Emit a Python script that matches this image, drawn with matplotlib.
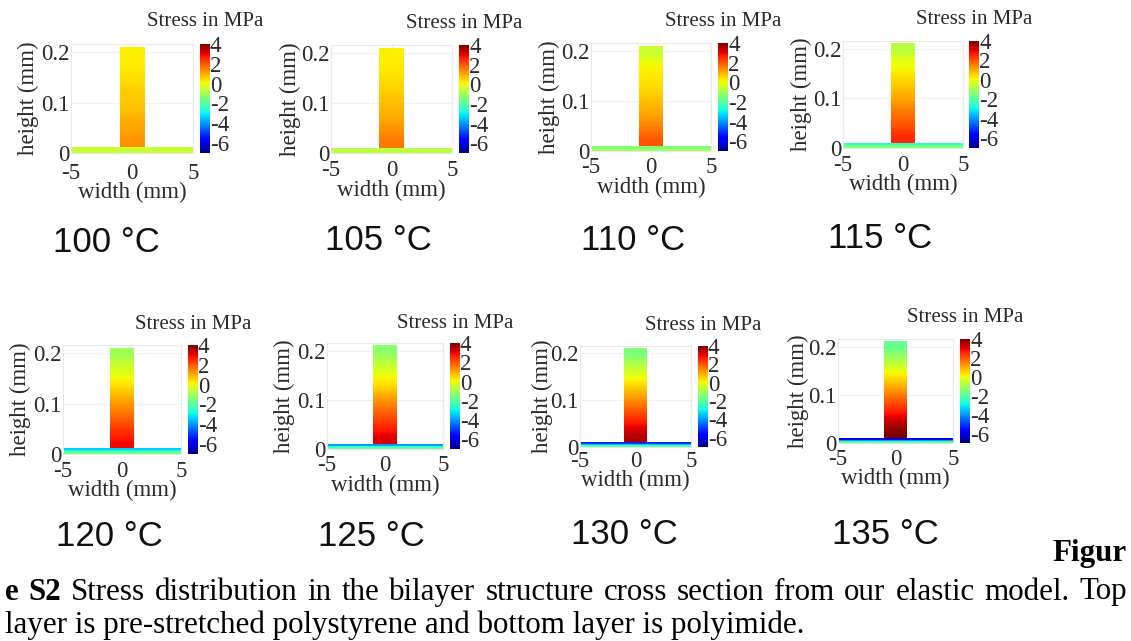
import numpy as np
import matplotlib
matplotlib.use("Agg")
import matplotlib.pyplot as plt
from matplotlib.cm import ScalarMappable
from matplotlib.colors import Normalize

W, H = 1131, 641
plt.rcParams['font.family'] = ['Liberation Serif', 'DejaVu Serif']
plt.rcParams['axes.unicode_minus'] = False

temps = ["100 °C", "105 °C", "110 °C", "115 °C", "120 °C", "125 °C", "130 °C", "135 °C"]

top_layer = [
    [0.2, 0.25, 0.4, 0.6, 0.7, 0.9, 1.1, 1.3],
    [0.2, 0.25, 0.4, 0.6, 0.8, 1.0, 1.3, 1.6],
    [-0.5, 0.1, 0.3, 0.5, 0.8, 1.1, 1.5, 2.0],
    [-0.7, -0.1, 0.3, 0.7, 1.1, 1.6, 2.0, 2.5],
    [-1.0, -0.4, 0.1, 0.7, 1.3, 1.8, 2.4, 2.9],
    [-1.3, -0.6, 0.0, 0.6, 1.3, 1.9, 2.5, 3.1],
    [-1.5, -0.7, 0.0, 0.7, 1.4, 2.1, 2.8, 3.5],
    [-1.8, -0.9, 0.0, 0.8, 1.6, 2.4, 3.2, 4.0],
]
# bottom layer, its top band then its bottom band
bottom_layer = [
    [-0.5, -0.5],
    [-0.7, -0.6],
    [-1.5, -1.0],
    [-2.6, -1.3],
    [-3.4, -1.6],
    [-4.0, -1.8],
    [-5.2, -1.9],
    [-6.0, -1.9],
]

y_ticks = [0, 0.1, 0.2]
y_tick_labels = ["0", "0.1", "0.2"]
x_ticks = [-5, 0, 5]
cbar_ticks = [4, 2, 0, -2, -4, -6]
caption_first = "Stress distribution in the bilayer structure cross section from our elastic model. Top"
caption_second = "layer is pre-stretched polystyrene and bottom layer is polyimide."

# pixel layout of each panel: left, right, top, bottom of the axes
ax_box = [(71, 193, 44, 153), (331, 452, 45, 153), (591, 711, 43, 151), (843, 963, 41, 148),
          (63, 181, 345, 454), (327, 443, 343, 449), (580, 691, 346, 447), (838, 953, 339, 443)]
cbar_left = [200, 459, 718, 969, 188, 450, 698, 960]
title_pos = [(205, 22), (464, 23), (723, 21), (974, 20), (193, 325), (455, 323), (703, 326), (965, 318)]
temp_pos = [(106, 243), (378, 241), (633, 240), (880, 238), (109, 537), (371, 537), (624, 534), (885, 535)]
ylabel_gap = [43, 41, 42, 42, 43, 43, 38, 40]
xlabel_gap = [39, 37, 36, 36, 36, 36, 33, 35]
xtick_pad = [7, 5, 4, 5, 5, 4, 3, 4]

text_col = "#2a2a2a"
norm = Normalize(-7, 4)
fig = plt.figure(figsize=(W / 100, H / 100), dpi=100)


def make_axes(left, right, top, bottom):
    return fig.add_axes([left / W, 1 - bottom / H, (right - left) / W, (bottom - top) / H])


for i, box in enumerate(ax_box):
    left, right, top, bottom = box
    ax = make_axes(left, right, top, bottom)

    # top layer, -1..1 mm wide, 0.01..0.21 mm high
    col = np.array(top_layer[i]).reshape(-1, 1)
    ax.imshow(col, extent=(-1, 1, 0.01, 0.21), aspect="auto", cmap="jet", norm=norm,
              interpolation="bilinear", interpolation_stage="data", zorder=2)
    # bottom layer, full width
    col = np.array(bottom_layer[i]).reshape(-1, 1)
    ax.imshow(col, extent=(-5, 5, 0, 0.01), aspect="auto", cmap="jet", norm=norm,
              interpolation="bilinear", interpolation_stage="data", zorder=2)

    ax.set_xlim(-5, 5)
    ax.set_ylim(0, 0.216)
    ax.set_xticks(x_ticks)
    ax.set_yticks(y_ticks)
    ax.set_yticklabels(y_tick_labels)
    ax.tick_params(length=0, labelsize=16.5, labelcolor=text_col, pad=1)
    ax.xaxis.set_tick_params(pad=xtick_pad[i])
    ax.grid(color="#f0f0f0", lw=0.8)
    ax.set_axisbelow(True)
    for s in ax.spines.values():
        s.set_color("#e8e8e8")
        s.set_linewidth(0.8)

    fig.text((left - ylabel_gap[i]) / W, 1 - (top + bottom) / 2 / H, "height (mm)", rotation=90, fontsize=16.5,
             color=text_col, ha="center", va="center")
    fig.text((left + right) / 2 / W, 1 - (bottom + xlabel_gap[i]) / H, "width (mm)", fontsize=16.5,
             color=text_col, ha="center", va="center")

    cax = make_axes(cbar_left[i], cbar_left[i] + 10, top, bottom)
    cb = fig.colorbar(ScalarMappable(norm=norm, cmap="jet"), cax=cax)
    cb.set_ticks(cbar_ticks)
    cb.set_ticklabels([str(t) for t in cbar_ticks])
    cax.tick_params(length=0, labelsize=16.5, labelcolor=text_col, pad=0)
    cb.outline.set_visible(False)

    fig.text(title_pos[i][0] / W, 1 - title_pos[i][1] / H, "Stress in MPa", fontsize=15,
             color=text_col, ha="center", va="center")
    fig.text(temp_pos[i][0] / W, 1 - temp_pos[i][1] / H, temps[i], fontsize=25, family="Liberation Sans",
             color="#111111", ha="center", va="center")

# caption, first line is justified so the words are set one by one
cap_size = 22.3
fig.text(1127 / W, 1 - 553 / H, "Figur", fontsize=cap_size, fontweight="bold", ha="right", va="center")
renderer = fig.canvas.get_renderer()
parts = [("e", "bold"), ("S2", "bold")] + [(w, "normal") for w in caption_first.split()]
texts = [fig.text(0, 1 - 592 / H, w, fontsize=cap_size, fontweight=b, va="center") for w, b in parts]
widths = [t.get_window_extent(renderer).width for t in texts]
gap = (1127 - 5 - sum(widths)) / (len(parts) - 1)
x = 5
for t, w in zip(texts, widths):
    t.set_x(x / W)
    x += w + gap
fig.text(5 / W, 1 - 625 / H, caption_second, fontsize=cap_size, va="center")

fig.savefig("out.png", dpi=100)
